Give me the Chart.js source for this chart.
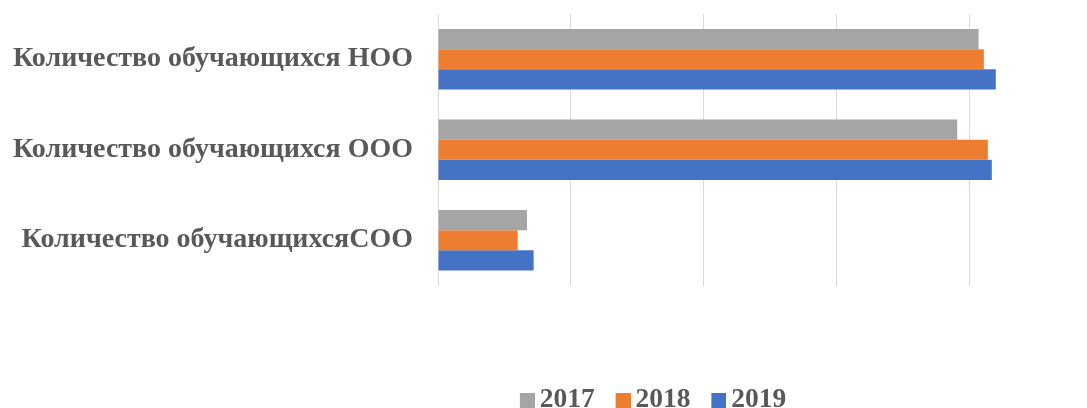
<!DOCTYPE html>
<html>
<head>
<meta charset="utf-8">
<script src="https://cdn.jsdelivr.net/npm/chart.js@4/dist/chart.umd.min.js"></script>
<style>
  html, body { margin: 0; padding: 0; background: #ffffff; overflow: hidden; width: 1087px; height: 408px; }
  #wrap { position: absolute; left: 0; top: 0; width: 1293px; height: 424px; }
</style>
</head>
<body>
<div id="wrap"><canvas id="c" width="1293" height="424"></canvas></div>
<script>
const categories = ['Количество обучающихся НОО', 'Количество обучающихся ООО', 'Количество обучающихсяСОО'];
const seriesNames = ['2017', '2018', '2019'];
const values2017 = [407, 391, 67];
const values2018 = [411, 414, 60];
const values2019 = [420, 417, 72];
const seriesColors = ['#A5A5A5', '#ED7D31', '#4472C4'];

const FONT = '"Liberation Serif", "Times New Roman", serif';
const TEXT = '#595959';

// legend swatch images: 15px square placed at the right of a wider transparent image
function makeSwatch(color) {
  const c = document.createElement('canvas');
  c.width = 37; c.height = 15;
  const g = c.getContext('2d');
  g.fillStyle = color;
  g.fillRect(22, 0, 15, 15);
  return c;
}
const swatches = seriesColors.map(makeSwatch);

new Chart(document.getElementById('c'), {
  type: 'bar',
  data: {
    labels: categories,
    datasets: [values2017, values2018, values2019].map((v, i) => ({
      label: seriesNames[i],
      data: v,
      backgroundColor: seriesColors[i],
      borderWidth: 0,
      categoryPercentage: 0.668,
      barPercentage: 1.0
    }))
  },
  options: {
    indexAxis: 'y',
    responsive: false,
    animation: false,
    layout: { padding: { top: 14, bottom: 0, left: 0, right: 0 } },
    scales: {
      x: {
        min: 0,
        max: 643.8,
        ticks: { display: false, stepSize: 100 },
        grid: { color: '#d9d9d9', lineWidth: 1, drawTicks: false },
        border: { display: false },
        afterFit: (s) => { s.height = 93; }
      },
      y: {
        ticks: { color: TEXT, font: { family: FONT, size: 28, weight: 'bold' }, padding: 25 },
        grid: { display: false, drawTicks: false },
        border: { display: false },
        afterFit: (s) => { s.width = 438; s.paddingTop = 0; s.paddingBottom = 0; }
      }
    },
    plugins: {
      legend: {
        position: 'bottom',
        labels: {
          usePointStyle: true,
          boxWidth: 19,
          boxHeight: 15,
          padding: 8,
          color: TEXT,
          font: { family: FONT, size: 27.5, weight: 'bold' },
          generateLabels: (chart) =>
            Chart.defaults.plugins.legend.labels.generateLabels(chart)
              .map((it, i) => Object.assign(it, { pointStyle: swatches[i] }))
        }
      },
      tooltip: { enabled: false }
    }
  }
});
</script>
</body>
</html>
